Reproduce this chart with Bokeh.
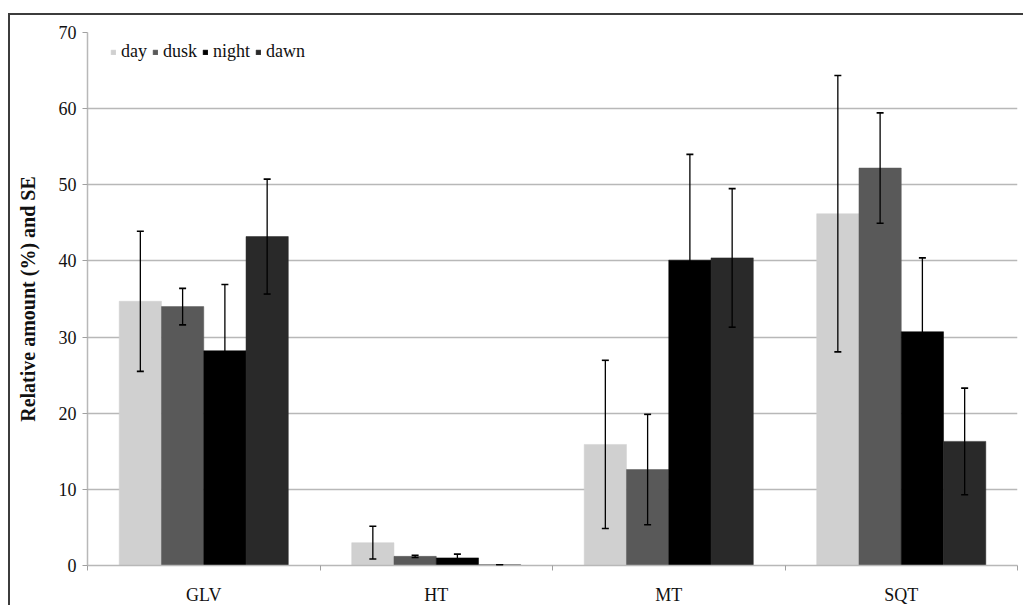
from bokeh.plotting import figure
from bokeh.models import ColumnDataSource, FixedTicker, Whisker, TeeHead, Range1d, Legend, LegendItem
from bokeh.embed import file_html
from bokeh.resources import INLINE

categories = ["GLV", "HT", "MT", "SQT"]
series = ["day", "dusk", "night", "dawn"]
colors = ["#d0d0d0", "#595959", "#000000", "#292929"]

day = [34.7, 3.0, 15.9, 46.2]
dusk = [34.0, 1.2, 12.6, 52.2]
night = [28.2, 1.0, 40.1, 30.7]
dawn = [43.2, 0.1, 40.4, 16.3]

day_se = [9.2, 2.15, 11.05, 18.15]
dusk_se = [2.4, 0.15, 7.25, 7.25]
night_se = [8.7, 0.5, 13.9, 9.7]
dawn_se = [7.55, 0.0, 9.1, 7.0]

values = [day, dusk, night, dawn]
errors = [day_se, dusk_se, night_se, dawn_se]

FONT = "Liberation Serif"
bar_w = 1 / 5.5

p = figure(width=1015, height=592, output_backend="svg", toolbar_location=None,
           x_range=Range1d(0, 4), y_range=Range1d(0, 70),
           min_border_left=77, min_border_right=8, min_border_top=17, min_border_bottom=40)
p.styles = {"border-top": "2px solid #3c3c3c", "border-left": "2px solid #3c3c3c",
            "border-right": "0px none", "border-bottom": "0px none",
            "margin-top": "13px", "margin-left": "8px", "overflow": "hidden"}
p.outline_line_color = None
p.background_fill_color = "white"
p.border_fill_color = "white"

items = []
for i, (name, vals, errs, col) in enumerate(zip(series, values, errors, colors)):
    xs = [c + 0.5 + (i - 1.5) * bar_w for c in range(len(categories))]
    src = ColumnDataSource(dict(x=xs, top=vals,
                                lower=[v - e for v, e in zip(vals, errs)],
                                upper=[v + e for v, e in zip(vals, errs)]))
    r = p.vbar(x="x", top="top", width=bar_w, bottom=0, source=src,
               fill_color=col, line_color=col, line_width=0.5)
    items.append(LegendItem(label=name, renderers=[r]))
    w = Whisker(base="x", lower="lower", upper="upper", source=src, level="overlay",
                line_color="black", line_width=1.3,
                upper_head=TeeHead(size=7, line_color="black", line_width=1.6),
                lower_head=TeeHead(size=7, line_color="black", line_width=1.6))
    p.add_layout(w)

legend = Legend(items=items, orientation="horizontal", location="top_left",
                label_text_font=FONT, label_text_font_size="18px", label_text_color="#111111",
                glyph_width=6, glyph_height=6, label_standoff=5, spacing=5,
                padding=0, margin=0, border_line_color=None, background_fill_alpha=0,
                label_height=14)
legend.location = (23, 535 - 32)
p.add_layout(legend)

# x axis
p.xaxis.ticker = FixedTicker(ticks=[c + 0.5 for c in range(len(categories))],
                             minor_ticks=list(range(len(categories) + 1)))
p.xaxis.major_label_overrides = {c + 0.5: name for c, name in enumerate(categories)}
p.xaxis.major_tick_line_color = None
p.xaxis.minor_tick_line_color = "#a0a0a0"
p.xaxis.minor_tick_out = 5
p.xaxis.minor_tick_in = 0
p.xaxis.axis_line_color = "#b8b8b8"
p.xaxis.axis_line_width = 1.5
p.xaxis.major_label_text_font = FONT
p.xaxis.major_label_text_font_size = "18px"
p.xaxis.major_label_text_color = "#111111"
p.xaxis.major_label_standoff = 13
p.xgrid.grid_line_color = None

# y axis
p.yaxis.ticker = FixedTicker(ticks=list(range(0, 71, 10)))
p.yaxis.axis_line_color = "#b8b8b8"
p.yaxis.axis_line_width = 1.5
p.yaxis.major_tick_line_color = "#a0a0a0"
p.yaxis.major_tick_out = 5
p.yaxis.major_tick_in = 0
p.yaxis.minor_tick_line_color = None
p.yaxis.major_label_text_font = FONT
p.yaxis.major_label_text_font_size = "18px"
p.yaxis.major_label_text_color = "#111111"
p.yaxis.major_label_standoff = 6
p.yaxis.axis_label = "Relative amount (%) and SE"
p.yaxis.axis_label_text_font = FONT
p.yaxis.axis_label_text_font_style = "bold"
p.yaxis.axis_label_text_font_size = "20px"
p.yaxis.axis_label_text_color = "#111111"
p.yaxis.axis_label_standoff = 17
p.ygrid.grid_line_color = "#b8b8b8"
p.ygrid.grid_line_width = 1.3

open("out.html", "w").write(file_html(p, INLINE))
